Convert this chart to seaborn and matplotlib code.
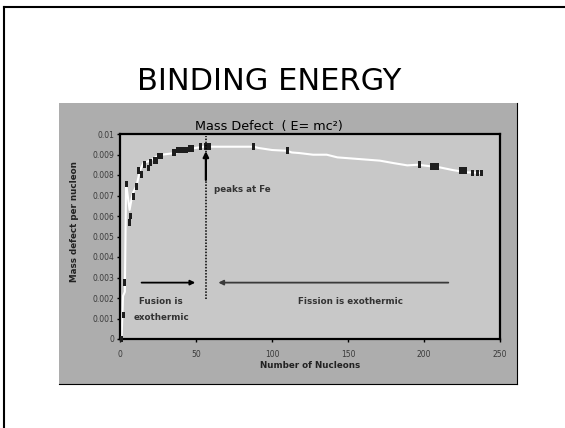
import numpy as np
import pandas as pd
import matplotlib
matplotlib.use("Agg")
import matplotlib.pyplot as plt
import seaborn as sns
from matplotlib.patches import Rectangle
from matplotlib.lines import Line2D
from matplotlib.path import Path

# ---------------- data ----------------
marker_nucleons = [1, 2, 3, 4, 6, 7, 9, 11, 12, 14, 16, 19, 20, 23, 24, 25, 26, 27,
                   35, 36, 38, 39, 40, 42, 44, 46, 48, 53, 56, 58, 59, 88, 110,
                   197, 205, 207, 209, 224, 226, 227.5, 232, 235, 238]
marker_defect = [0.0, 0.00117, 0.00276, 0.00756, 0.00570, 0.00600, 0.00694, 0.00742,
                 0.00822, 0.00802, 0.00851, 0.00834, 0.00860, 0.00871, 0.00870,
                 0.00893, 0.00893, 0.00893, 0.00910, 0.00910, 0.00922, 0.00922,
                 0.00922, 0.00922, 0.00922, 0.00930, 0.00930, 0.00938, 0.00938,
                 0.00938, 0.00938, 0.00938, 0.00918, 0.00850, 0.00840, 0.00840,
                 0.00840, 0.00821, 0.00821, 0.00821, 0.00810, 0.00810, 0.00810]

curve_nucleons = [1, 2, 3.2, 4, 6.3, 8.3, 11, 13, 15.5, 20, 24, 28.5, 35, 42, 48, 55,
                  88, 91, 100, 110, 113, 118, 127, 136, 143, 171, 180, 189, 196,
                  210.5, 219, 228, 238]
curve_defect = [0.0, 0.0021, 0.0023, 0.0076, 0.0063, 0.0071, 0.0075, 0.0082, 0.0086,
                0.0087, 0.0089, 0.0090, 0.00906, 0.0092, 0.0093, 0.00938,
                0.00938, 0.00932, 0.00922, 0.00918, 0.0091, 0.00907, 0.00899,
                0.00899, 0.00886, 0.0087, 0.00858, 0.00847, 0.0085,
                0.00837, 0.00824, 0.00813, 0.0081]

x_ticks = [0, 50, 100, 150, 200, 250]
y_ticks = [0, 0.001, 0.002, 0.003, 0.004, 0.005, 0.006, 0.007, 0.008, 0.009, 0.01]
y_tick_labels = ["0", "0.001", "0.002", "0.003", "0.004", "0.005", "0.006",
                 "0.007", "0.008", "0.009", "0.01"]

slide_title = "BINDING ENERGY"
chart_title = "Mass Defect  ( E= mc²)"
x_label = "Number of Nucleons"
y_label = "Mass defect per nucleon"

df_markers = pd.DataFrame({"A": marker_nucleons, "defect": marker_defect})
df_curve = pd.DataFrame({"A": curve_nucleons, "defect": curve_defect})

# ---------------- figure ----------------
W, H = 565, 428
fig = plt.figure(figsize=(W / 100, H / 100), dpi=100)
fig.patch.set_facecolor("white")

def fx(px):
    return px / W

def fy(py):
    return 1 - py / H

# slide border (left and top visible)
fig.add_artist(Line2D([fx(3.7), fx(3.7)], [fy(430), fy(6.7)], transform=fig.transFigure,
                      color="black", lw=1.5, solid_capstyle="projecting"))
fig.add_artist(Line2D([fx(3.7), fx(570)], [fy(6.7), fy(6.7)], transform=fig.transFigure,
                      color="black", lw=1.5, solid_capstyle="projecting"))

# chart panel
fig.add_artist(Rectangle((fx(59), fy(384)), fx(517) - fx(59), fy(103) - fy(384),
                         transform=fig.transFigure, facecolor="#adadad",
                         edgecolor="none", zorder=-2))
fig.add_artist(Line2D([fx(517), fx(517)], [fy(384), fy(103)], transform=fig.transFigure,
                      color="black", lw=0.8, zorder=-1))
fig.add_artist(Line2D([fx(59), fx(517)], [fy(384), fy(384)], transform=fig.transFigure,
                      color="black", lw=0.8, zorder=-1))

ax = fig.add_axes([fx(120), fy(339), fx(500) - fx(120), fy(134) - fy(339)])
ax.set_facecolor("#c8c8c8")

sns.lineplot(data=df_curve, x="A", y="defect", sort=False, estimator=None,
             color="white", lw=1.5, ax=ax, zorder=2)

bar_marker = Path([(-0.22, -0.5), (0.22, -0.5), (0.22, 0.5), (-0.22, 0.5), (-0.22, -0.5)],
                  [Path.MOVETO, Path.LINETO, Path.LINETO, Path.LINETO, Path.CLOSEPOLY])
sns.scatterplot(data=df_markers, x="A", y="defect", marker=bar_marker, s=24,
                color="#1e1e1e", edgecolor="none", linewidth=0, ax=ax,
                clip_on=False, zorder=3)

ax.set_xlim(0, 250)
ax.set_ylim(0, 0.01)
ax.set_xticks(x_ticks)
ax.set_xticklabels([str(t) for t in x_ticks])
ax.set_yticks(y_ticks)
ax.set_yticklabels(y_tick_labels)
ax.tick_params(axis="both", direction="out", length=2.5, width=1, color="black",
               labelcolor="#3a3a3a", labelsize=5.5)
ax.tick_params(axis="x", pad=5.5)
ax.tick_params(axis="y", pad=1.5)
for sp in ax.spines.values():
    sp.set_linewidth(1.6)
    sp.set_color("black")

ax.set_xlabel(x_label, fontsize=6.3, fontweight="bold", color="#222222", va="top")
ax.xaxis.set_label_coords(0.5, (339 - 361) / 205)
ax.set_ylabel(y_label, fontsize=6.3, fontweight="bold", color="#222222")
ax.yaxis.set_label_coords((79 - 120) / 380, (339 - 222) / 205)

# annotations
ax.plot([56.5, 56.5], [0.00195, 0.0099], color="black", lw=1.1, ls=(0, (1, 1)), zorder=4)
ax.annotate("", xy=(56.5, 0.00916), xytext=(56.5, 0.00776),
            arrowprops=dict(arrowstyle="-|>", color="black", lw=1.6, mutation_scale=8,
                            shrinkA=0, shrinkB=0), zorder=5)
ax.annotate("", xy=(49.5, 0.00275), xytext=(14.2, 0.00275),
            arrowprops=dict(arrowstyle="-|>", color="black", lw=1.3, mutation_scale=7,
                            shrinkA=0, shrinkB=0))
ax.annotate("", xy=(64.7, 0.00275), xytext=(216, 0.00275),
            arrowprops=dict(arrowstyle="-|>", color="#3a3a3a", lw=1.3, mutation_scale=7,
                            shrinkA=0, shrinkB=0))
txt_kw = dict(fontsize=6.3, color="#333333", fontweight="bold")
ax.text(62, 0.00727, "peaks at Fe", ha="left", va="center", **txt_kw)
ax.text(27, 0.00182, "Fusion is", ha="center", va="center", **txt_kw)
ax.text(27, 0.00106, "exothermic", ha="center", va="center", **txt_kw)
ax.text(151.7, 0.00182, "Fission is exothermic", ha="center", va="center", **txt_kw)

fig.text(fx(269), fy(130), chart_title, ha="center", va="baseline", fontsize=9.2,
         color="black")
fig.text(fx(269), fy(90), slide_title, ha="center", va="baseline", fontsize=22,
         color="black")

fig.savefig("out.png", dpi=100)
